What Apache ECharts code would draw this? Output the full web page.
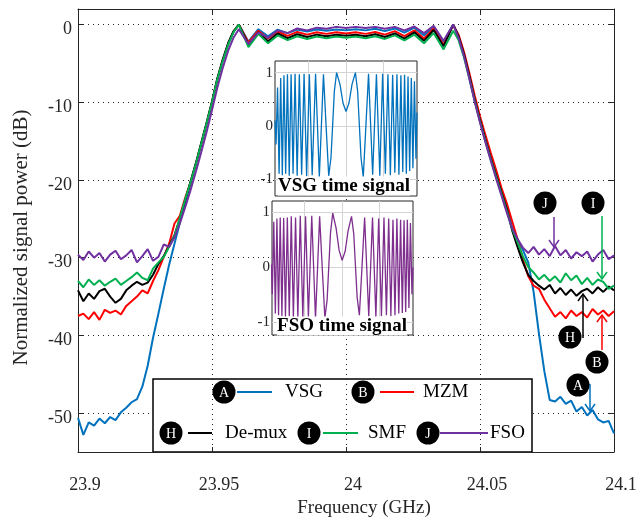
<!DOCTYPE html>
<html lang="en">
<head>
  <meta charset="UTF-8">
  <title>Normalized signal power</title>
  <script src="https://cdn.jsdelivr.net/npm/echarts@6.0.0/dist/echarts.min.js"></script>
  <style>
    html, body { margin: 0; padding: 0; background: #fff; }
    #chart { width: 637px; height: 519px; }
  </style>
</head>
<body>
  <div id="chart"></div>

  <script>
    // frequency samples (GHz), shared by all spectra
    var freq = [
      23.900, 23.902, 23.904, 23.906, 23.908, 23.910, 23.912, 23.914, 23.916, 23.918,
      23.920, 23.922, 23.924, 23.926, 23.928, 23.930, 23.932, 23.934, 23.936, 23.938,
      23.940, 23.942, 23.944, 23.946, 23.948, 23.950, 23.952, 23.954, 23.956, 23.958,
      23.960, 23.9636, 23.9673, 23.9709, 23.9745, 23.9782, 23.9818, 23.9855, 23.9891, 23.9927,
      23.9964, 24.0000, 24.0036, 24.0073, 24.0109, 24.0145, 24.0182, 24.0218, 24.0255, 24.0291,
      24.0327, 24.0364, 24.0400, 24.042, 24.044, 24.046, 24.048, 24.050, 24.052, 24.054,
      24.056, 24.058, 24.060, 24.062, 24.064, 24.066, 24.068, 24.070, 24.072, 24.074,
      24.076, 24.078, 24.080, 24.082, 24.084, 24.086, 24.088, 24.090, 24.092, 24.094,
      24.096, 24.098, 24.100
    ];

    var vsg = [
      -50.6, -52.8, -51.2, -51.6, -50.7, -51.3, -50.5, -50.9, -49.9, -49.3,
      -48.6, -48.2, -46.6, -43.9, -40.3, -37.2, -34.0, -30.9, -28.2, -25.5,
      -22.9, -20.5, -18.0, -15.4, -12.8, -10.1, -7.1, -4.7, -2.6, -0.9,
      0.0, -2.2, -0.6, -1.5, -0.65, -1.1, -0.65, -0.9, -0.65, -0.8,
      -0.65, -0.75, -0.6, -0.75, -0.55, -0.85, -0.5, -1.05, -0.4, -1.4,
      -0.25, -2.2, 0.0, -1.5, -3.8, -6.6, -9.6, -12.3, -14.8, -17.2,
      -19.4, -21.6, -23.8, -26.1, -27.6, -29.0, -30.6, -34.4, -39.8, -44.6,
      -48.3, -48.5, -47.9, -48.8, -48.4, -49.8, -49.2, -50.3, -49.6, -50.8,
      -51.2, -51.0, -52.6
    ];
    var mzm = [
      -37.5, -37.2, -37.9, -37.0, -38.0, -36.7, -37.1, -36.8, -37.3, -36.2,
      -35.6, -35.0, -34.2, -34.6, -33.0, -31.6, -29.9, -28.2, -25.6, -24.6,
      -22.3, -20.3, -17.9, -15.3, -12.7, -10.0, -7.0, -4.6, -2.5, -0.9,
      0.0, -2.3, -0.8, -1.8, -0.9, -1.45, -0.95, -1.3, -1.0, -1.2,
      -1.0, -1.15, -1.0, -1.2, -0.95, -1.3, -0.85, -1.5, -0.75, -1.8,
      -0.5, -2.6, -0.05, -1.3, -3.5, -6.2, -9.1, -11.8, -14.2, -16.5,
      -18.7, -21.0, -23.0, -25.3, -27.6, -30.2, -32.4, -33.6, -34.0, -35.4,
      -36.5, -37.6, -37.0, -37.8, -36.8, -37.5, -37.0, -37.7, -36.6, -37.3,
      -36.8, -37.5, -36.9
    ];
    var demux = [
      -34.2, -35.6, -34.6, -35.3, -34.3, -34.0, -35.0, -35.8, -35.3, -34.2,
      -33.6, -33.1, -33.5, -33.2, -32.2, -30.8, -29.8, -28.5, -27.1, -25.0,
      -22.6, -20.2, -17.8, -15.2, -12.6, -9.9, -6.9, -4.5, -2.4, -0.9,
      0.0, -2.6, -1.0, -2.15, -1.15, -1.75, -1.25, -1.6, -1.3, -1.5,
      -1.3, -1.45, -1.3, -1.5, -1.25, -1.6, -1.15, -1.8, -1.0, -2.1,
      -0.7, -2.8, 0.0, -1.5, -3.8, -6.6, -9.6, -12.3, -14.8, -17.2,
      -19.4, -21.6, -23.7, -26.5, -28.6, -30.6, -32.2, -33.0, -33.6, -34.1,
      -33.5, -34.6, -33.9, -34.8, -34.1, -34.9, -34.3, -34.0, -34.6, -33.8,
      -34.4, -33.7, -34.2
    ];
    var smf = [
      -33.0, -33.8, -32.8, -33.5, -32.9, -33.6, -33.1, -32.7, -33.5, -33.0,
      -32.5, -31.9, -32.6, -32.9, -31.4, -30.6, -29.9, -28.6, -27.2, -24.9,
      -22.5, -20.3, -17.9, -15.3, -12.7, -10.0, -7.0, -4.7, -2.6, -1.0,
      0.0, -2.9, -1.2, -2.4, -1.4, -2.0, -1.5, -1.85, -1.55, -1.75,
      -1.55, -1.7, -1.55, -1.75, -1.5, -1.85, -1.4, -2.05, -1.3, -2.4,
      -1.1, -3.2, -0.8, -2.0, -4.2, -6.9, -9.8, -12.5, -15.0, -17.4,
      -19.6, -21.8, -24.0, -26.3, -28.0, -29.8, -31.2, -31.9, -32.8, -32.2,
      -33.0, -32.4, -33.2, -32.0, -32.9, -32.3, -33.4, -32.6, -33.5, -32.8,
      -33.1, -34.0, -33.6
    ];
    var fso = [
      -29.6, -30.3, -29.2, -30.0, -29.4, -30.5, -29.6, -29.1, -30.2, -29.7,
      -29.0, -30.6, -29.8, -28.9, -30.4, -29.9, -28.3, -28.6, -27.4, -25.6,
      -23.5, -21.3, -18.9, -16.4, -13.8, -11.0, -8.1, -5.6, -3.4, -1.7,
      -0.6, -2.5, -1.0, -1.7, -0.75, -1.1, -0.5, -0.75, -0.4, -0.55,
      -0.3, -0.45, -0.3, -0.45, -0.3, -0.55, -0.3, -0.75, -0.25, -1.1,
      -0.15, -2.1, 0.0, -1.7, -4.0, -6.9, -9.9, -12.6, -15.1, -17.5,
      -19.8, -22.0, -24.2, -26.2, -27.6, -28.7, -29.4, -28.6, -29.6, -28.9,
      -29.8, -28.5, -29.7, -29.0, -30.1, -29.3, -29.8, -29.2, -30.5, -29.6,
      -29.0, -30.2, -29.7
    ];

    // time samples for the two inset signals
    var tInset = [
      -1.89, -1.862, -1.822, -1.781, -1.739, -1.695, -1.651, -1.606, -1.559, -1.511,
      -1.461, -1.409, -1.356, -1.300, -1.242, -1.181, -1.116, -1.048, -0.975, -0.90,
      -0.81, -0.71, -0.60, -0.53, -0.46, -0.40, -0.355, -0.31, -0.25, -0.16,
      -0.08, 0, 0.08, 0.16, 0.25, 0.31, 0.355, 0.40, 0.46, 0.53,
      0.60, 0.71, 0.81, 0.90, 0.975, 1.048, 1.116, 1.181, 1.242, 1.300,
      1.356, 1.409, 1.461, 1.511, 1.559, 1.606, 1.651, 1.695, 1.739, 1.781,
      1.822, 1.862, 1.89
    ];
    var vsgTime = [
      0.1, -0.35, 0.72, -0.9, 0.9, -0.93, 0.95, -0.9, 0.97, -0.94,
      0.97, -0.9, 0.98, -0.94, 0.97, -0.92, 0.98, -0.95, 0.97, -0.93,
      0.98, -0.96, 0.97, 0.0, -0.94, -0.6, 0.02, 0.65, 1.0, 0.78,
      0.43, 0.27, 0.43, 0.78, 1.0, 0.65, 0.02, -0.6, -0.96, 0.0,
      0.98, -0.92, 0.97, -0.94, 0.98, -0.9, 0.97, -0.93, 0.96, -0.88,
      0.97, -0.92, 0.95, -0.87, 0.96, -0.9, 0.93, -0.85, 0.9, -0.8,
      0.84, -0.62, 0.25
    ];
    var fsoTime = [
      0.05, -0.5, 0.82, -0.85, 0.88, -0.88, 0.9, -0.9, 0.89, -0.92,
      0.9, -0.9, 0.92, -0.93, 0.9, -0.92, 0.93, -0.94, 0.92, -0.92,
      0.93, -0.95, 0.92, -0.02, -0.93, -0.6, 0.02, 0.62, 0.98, 0.7,
      0.3, 0.12, 0.28, 0.66, 0.92, 0.6, 0.02, -0.55, -0.88, 0.0,
      0.9, -0.9, 0.9, -0.92, 0.88, -0.9, 0.9, -0.88, 0.88, -0.9,
      0.86, -0.88, 0.88, -0.85, 0.86, -0.84, 0.85, -0.82, 0.86, -0.75,
      0.8, -0.5, 0.0
    ];

    var xTicks = [23.9, 23.95, 24, 24.05, 24.1];
    var yTicks = [-50, -40, -30, -20, -10, 0];
    var insetTicks = [-1, 0, 1];

    var names = ['VSG', 'MZM', 'De-mux', 'SMF', 'FSO'];
    var badges = ['A', 'B', 'H', 'I', 'J'];
    var colors = ['#0072BD', '#FF0000', '#000000', '#00B050', '#7030A0'];

    var serif = '"Liberation Serif", "Times New Roman", serif';
    var ink = '#262626';

    function pairs(xs, ys) {
      return xs.map(function (x, i) { return [x, ys[i]]; });
    }

    // legend / annotation positions in pixels
    var legendPos = [
      { cx: 224, cy: 392, x1: 237, x2: 272, tx: 285 },
      { cx: 363, cy: 392, x1: 380, x2: 414, tx: 423 },
      { cx: 171, cy: 433, x1: 188, x2: 212, tx: 225 },
      { cx: 309, cy: 433, x1: 323, x2: 358, tx: 368 },
      { cx: 428, cy: 433, x1: 440, x2: 488, tx: 490 }
    ];
    var markerPos = [
      { cx: 578, cy: 385, ax: 590, y1: 384, y2: 411 },
      { cx: 597, cy: 362, ax: 602, y1: 350, y2: 315 },
      { cx: 570, cy: 337, ax: 583, y1: 338, y2: 294 },
      { cx: 593, cy: 203, ax: 602, y1: 216, y2: 279 },
      { cx: 545, cy: 203, ax: 554, y1: 217, y2: 247 }
    ];

    function badge(letter, cx, cy) {
      return [
        { type: 'circle', z: 6, shape: { cx: cx, cy: cy, r: 11.5 }, style: { fill: '#000' } },
        { type: 'text', z: 7, x: cx, y: cy + 1,
          style: { text: letter, fill: '#fff', font: '14px ' + serif, textAlign: 'center', textVerticalAlign: 'middle' } }
      ];
    }

    var graphics = [
      { type: 'rect', z: 0.5, shape: { x: 153, y: 379, width: 379, height: 73 },
        style: { fill: '#fff', stroke: '#000', lineWidth: 1.5 } }
    ];
    legendPos.forEach(function (p, i) {
      graphics = graphics.concat(badge(badges[i], p.cx, p.cy));
      graphics.push({ type: 'line', z: 6, shape: { x1: p.x1, y1: p.cy, x2: p.x2, y2: p.cy },
        style: { stroke: colors[i], lineWidth: 2 } });
      graphics.push({ type: 'text', z: 6, x: p.tx, y: p.cy,
        style: { text: names[i], fill: '#000', font: '19px ' + serif, textAlign: 'left', textVerticalAlign: 'middle' } });
    });
    markerPos.forEach(function (p, i) {
      var dir = p.y2 > p.y1 ? 1 : -1;
      graphics.push({ type: 'line', z: 5, shape: { x1: p.ax, y1: p.y1, x2: p.ax, y2: p.y2 },
        style: { stroke: colors[i], lineWidth: 1.5 } });
      graphics.push({ type: 'polyline', z: 5,
        shape: { points: [[p.ax - 5, p.y2 - dir * 7], [p.ax, p.y2], [p.ax + 5, p.y2 - dir * 7]] },
        style: { stroke: colors[i], lineWidth: 1.5, fill: null } });
      graphics = graphics.concat(badge(badges[i], p.cx, p.cy));
    });
    graphics.push({ type: 'text', z: 13, x: 344, y: 186,
      style: { text: 'VSG time signal', fill: '#000', font: 'bold 19px ' + serif,
        textAlign: 'center', textVerticalAlign: 'middle', backgroundColor: '#fff' } });
    graphics.push({ type: 'text', z: 13, x: 342, y: 326,
      style: { text: 'FSO time signal', fill: '#000', font: 'bold 19px ' + serif,
        textAlign: 'center', textVerticalAlign: 'middle', backgroundColor: '#fff' } });

    function insetX(grid, min, max) {
      return {
        type: 'value', gridIndex: grid, min: min, max: max, z: 11,
        axisLine: { show: false },
        axisTick: { show: false, customValues: insetTicks },
        axisLabel: { show: false },
        splitLine: { show: true, lineStyle: { color: '#d4d4d4', width: 1 } }
      };
    }
    function insetY(grid, min, max) {
      return {
        type: 'value', gridIndex: grid, min: min, max: max, z: 11,
        axisLine: { show: false },
        axisTick: { show: false, customValues: insetTicks },
        axisLabel: { customValues: insetTicks, color: ink, fontFamily: serif, fontSize: 15, margin: 2 },
        splitLine: { show: true, lineStyle: { color: '#d4d4d4', width: 1 } }
      };
    }

    var mainSeries = [vsg, mzm, demux, smf, fso].map(function (vals, i) {
      return {
        name: names[i], type: 'line', xAxisIndex: 0, yAxisIndex: 0, z: 2,
        data: pairs(freq, vals), showSymbol: false,
        lineStyle: { color: colors[i], width: 2 }
      };
    });

    var chart = echarts.init(document.getElementById('chart'));
    chart.setOption({
      animation: false,
      backgroundColor: '#fff',
      grid: [
        { left: 78, right: 23, top: 9, bottom: 67, containLabel: false, outerBoundsMode: 'none' },
        { left: 275, top: 61, width: 142, height: 135, show: true, z: 10, outerBoundsMode: 'none',
          backgroundColor: '#fff', borderColor: ink, borderWidth: 1 },
        { left: 272, top: 201, width: 141, height: 134, show: true, z: 10, outerBoundsMode: 'none',
          backgroundColor: '#fff', borderColor: ink, borderWidth: 1 }
      ],
      xAxis: [
        { type: 'value', gridIndex: 0, min: 23.9, max: 24.1, position: 'bottom', z: 1,
          axisLine: { show: true, onZero: false, lineStyle: { color: ink, width: 1 } },
          axisTick: { inside: true, length: 5, customValues: xTicks, lineStyle: { color: ink } },
          axisLabel: { customValues: xTicks, color: ink, fontFamily: serif, fontSize: 18, margin: 24,
            padding: [0, 0, 0, 14] },
          splitLine: { show: true, lineStyle: { color: '#222', width: 1, type: [1, 4] } },
          name: 'Frequency (GHz)', nameLocation: 'middle', nameGap: 46,
          nameTextStyle: { color: ink, fontFamily: serif, fontSize: 19, padding: [0, 0, 0, 36] } },
        { type: 'value', gridIndex: 0, min: 23.9, max: 24.1, position: 'top',
          axisLine: { show: true, onZero: false, lineStyle: { color: ink, width: 1 } },
          axisTick: { inside: true, length: 5, customValues: xTicks, lineStyle: { color: ink } },
          axisLabel: { show: false }, splitLine: { show: false } },
        insetX(1, -1.89, 1.89),
        insetX(2, -1.87, 1.89)
      ],
      yAxis: [
        { type: 'value', gridIndex: 0, min: -55, max: 2, position: 'left', z: 0,
          axisLine: { show: true, onZero: false, lineStyle: { color: ink, width: 1 } },
          axisTick: { inside: true, length: 5, customValues: yTicks, lineStyle: { color: ink } },
          axisLabel: { customValues: yTicks, color: ink, fontFamily: serif, fontSize: 18, margin: 6,
            verticalAlign: 'top', lineHeight: 10 },
          splitLine: { show: true, lineStyle: { color: '#222', width: 1, type: [1, 4] } },
          name: 'Normalized signal power (dB)', nameLocation: 'middle', nameGap: 46,
          nameTextStyle: { color: ink, fontFamily: serif, fontSize: 21, padding: [0, 14, 0, 0] } },
        { type: 'value', gridIndex: 0, min: -55, max: 2, position: 'right',
          axisLine: { show: true, onZero: false, lineStyle: { color: ink, width: 1 } },
          axisTick: { inside: true, length: 5, customValues: yTicks, lineStyle: { color: ink } },
          axisLabel: { show: false }, splitLine: { show: false } },
        insetY(1, -1.32, 1.22),
        insetY(2, -1.24, 1.2)
      ],
      series: mainSeries.concat([
        { name: 'VSG time signal', type: 'line', xAxisIndex: 2, yAxisIndex: 2, z: 12,
          data: pairs(tInset, vsgTime), showSymbol: false,
          lineStyle: { color: '#0072BD', width: 1.3 } },
        { name: 'FSO time signal', type: 'line', xAxisIndex: 3, yAxisIndex: 3, z: 12,
          data: pairs(tInset, fsoTime), showSymbol: false,
          lineStyle: { color: '#7E2F8E', width: 1.3 } }
      ]),
      graphic: { elements: graphics }
    });
  </script>
</body>
</html>
